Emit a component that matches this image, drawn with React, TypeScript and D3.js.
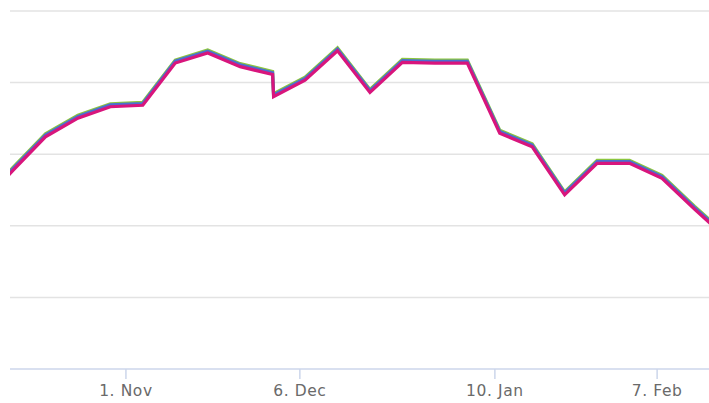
import React from "react";
import * as d3 from "d3";

// x positions are ordinal week indices (ordinal axis)
const pointIndex = [-1, 0, 1, 2, 3, 4, 5, 6, 7, 8, 8.03, 9, 10, 11, 12, 13, 14, 15, 16, 17, 18, 19, 20, 21, 22];
const seriesValues = [2.3, 2.78, 3.25, 3.51, 3.67, 3.69, 4.28, 4.42, 4.23, 4.12, 3.81, 4.04, 4.45, 3.87, 4.29, 4.28, 4.28, 3.3, 3.11, 2.44, 2.88, 2.88, 2.67, 2.24, 1.83];
const tickIndex = [3.48, 8.84, 14.85, 19.85];
const tickLabels = ["1. Nov", "6. Dec", "10. Jan", "7. Feb"];
const gridValues = [1, 2, 3, 4, 5];

const seriesStyles = [
  { color: "#8cc63f", offset: -2.5 },
  { color: "#4a6fd0", offset: -1.3 },
  { color: "#d8157c", offset: 0.5 },
];

export default function App() {
  const W = 709, H = 403;
  const left = 10, right = 709, top = 11, bottom = 369;
  const x = d3.scaleLinear().domain([0, 20]).range([13, 662]);
  const y = d3.scaleLinear().domain([0, 5]).range([bottom, top]);
  const data = pointIndex.map((i, k) => ({ i, v: seriesValues[k] }));
  const line = d3.line<{ i: number; v: number }>().x(d => x(d.i)).y(d => y(d.v));
  const path = line(data) || "";
  return (
    <svg width={W} height={H} style={{ position: "absolute", left: 0, top: 0, background: "#fff" }}>
      <defs>
        <clipPath id="plot">
          <rect x={left} y={0} width={right - left} height={bottom} />
        </clipPath>
      </defs>
      {gridValues.map(g => (
        <line key={g} x1={left} x2={right} y1={y(g)} y2={y(g)} stroke="#e3e3e3" strokeWidth={1.5} />
      ))}
      <g clipPath="url(#plot)">
        {seriesStyles.map((s, k) => (
          <path key={k} d={path} transform={`translate(0,${s.offset})`} fill="none" stroke={s.color} strokeWidth={3.2} strokeLinejoin="miter" />
        ))}
      </g>
      <line x1={left} x2={right} y1={bottom} y2={bottom} stroke="#ccd6eb" strokeWidth={1.5} />
      {tickIndex.map((t, k) => (
        <g key={k}>
          <line x1={x(t)} x2={x(t)} y1={bottom} y2={bottom + 10} stroke="#ccd6eb" strokeWidth={1.5} />
          <text x={x(t)} y={396} textAnchor="middle" fontFamily="DejaVu Sans" fontSize={15.5} letterSpacing={0.6} fill="#6a6a6a">{tickLabels[k]}</text>
        </g>
      ))}
    </svg>
  );
}
